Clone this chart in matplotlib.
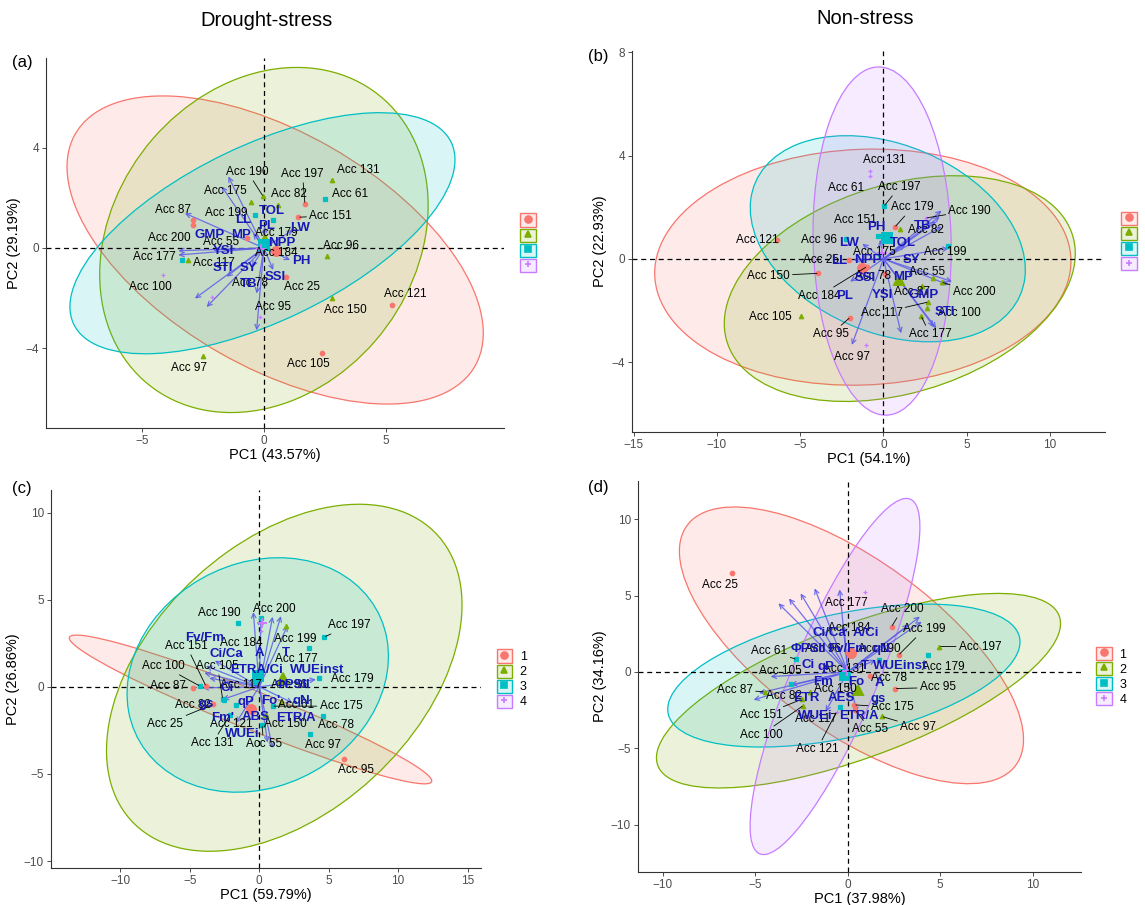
import numpy as np
import matplotlib.pyplot as plt
from matplotlib.patches import Ellipse, Patch
from matplotlib.lines import Line2D
from matplotlib.legend_handler import HandlerTuple
from matplotlib.colors import to_rgba

plt.rcParams['font.family'] = ['Liberation Sans', 'DejaVu Sans']

GRP_COL = {1: '#F8766D', 2: '#7CAE00', 3: '#00BFC4', 4: '#C77CFF'}
GRP_MK = {1: 'o', 2: '^', 3: 's', 4: '+'}

# ---------------- panel (a): drought-stress, yield indices ----------------
a_acc = [131, 61, 197, 82, 190, 175, 151, 87, 199, 200, 55, 179, 184, 96, 177, 117, 100, 78, 25, 95, 121, 150, 105, 97]
a_x = [2.81, 2.50, 1.68, 0.59, -0.03, -0.55, 1.41, -2.90, -0.37, -2.90, -0.71, 0.38, 0.20, 2.57, -3.35, -3.10, -4.13, -2.14, 0.90, -0.16, 5.23, 2.77, 2.40, -2.49]
a_y = [2.73, 1.95, 1.77, 1.70, 2.06, 1.83, 1.23, 1.12, 1.33, 0.91, 0.39, 1.10, 0.20, -0.32, -0.48, -0.48, -1.08, -1.95, -1.15, -2.76, -2.26, -1.98, -4.19, -4.32]
a_grp = [2, 3, 1, 2, 2, 2, 1, 1, 3, 1, 1, 3, 2, 2, 3, 2, 4, 4, 1, 4, 1, 2, 1, 2]
a_lx = [3.87, 3.52, 1.58, 1.04, -0.67, -1.57, 2.73, -3.72, -1.53, -3.89, -1.76, 0.49, 0.52, 3.16, -4.51, -2.05, -4.67, -0.57, 1.54, 0.38, 5.78, 3.32, 1.82, -3.06]
a_ly = [3.11, 2.17, 2.96, 2.17, 3.04, 2.26, 1.29, 1.53, 1.39, 0.41, 0.23, 0.59, -0.21, 0.09, -0.37, -0.59, -1.55, -1.39, -1.55, -2.36, -1.85, -2.46, -4.63, -4.81]
a_seg = [190, 197, 151]
a_var = ['TOL', 'LL', 'PL', 'LW', 'GMP', 'MP', 'NPP', 'YSI', 'PH', 'STI', 'SY', 'SSI', 'TB']
a_vx = [0.31, -0.85, 0.11, 1.48, -2.21, -0.92, 0.72, -1.67, 1.54, -1.67, -0.64, 0.45, -0.64]
a_vy = [1.46, 1.12, 0.86, 0.79, 0.52, 0.52, 0.19, -0.11, -0.51, -0.79, -0.79, -1.15, -1.45]
a_arx = [-1.46, -1.73, -3.24, -3.51, -3.51, -2.83, -2.35, -0.30, 1.20, 1.07, -1.53, -0.50, -0.30, 0.38, -0.44, -2.08, 0.04, 0.38]
a_ary = [2.86, 2.46, 1.39, -0.11, -0.28, -2.02, -2.36, -3.29, 0.72, -0.48, -1.15, -0.75, -1.82, -0.88, 0.59, -0.08, 0.86, 0.32]
a_ell_grp = [1, 2, 3]
a_ell_cx = [0.46, 0.00, -0.06]
a_ell_cy = [-0.08, 0.32, 0.59]
a_ell_sx = [8.53, 6.73, 7.89]
a_ell_sy = [6.16, 6.90, 4.82]
a_ell_rho = [-0.54, 0.20, 0.61]
a_cen_x = [0.49, 0.05, 0.02, -0.10]
a_cen_y = [-0.13, 0.30, 0.12, -0.05]

# ---------------- panel (b): non-stress, yield indices ----------------
b_acc = [131, 61, 197, 179, 190, 151, 82, 121, 96, 199, 175, 25, 150, 55, 78, 184, 200, 87, 117, 100, 105, 95, 177, 97]
b_x = [-0.78, -0.82, 0.02, 0.68, 2.54, -0.30, 0.99, -6.40, -2.28, 3.90, -0.20, -2.10, -3.91, 3.00, 0.10, -1.00, 3.50, 2.30, 2.69, 2.64, -4.97, -2.01, 2.26, -1.06]
b_y = [3.39, 3.19, 2.03, 1.23, 1.58, 0.90, 1.15, 0.75, 0.76, 0.50, 0.20, -0.05, -0.56, -0.75, -0.60, -0.30, -0.90, -1.05, -1.67, -1.91, -2.21, -2.27, -2.21, -3.33]
b_grp = [4, 4, 3, 1, 4, 3, 2, 1, 3, 3, 3, 1, 1, 2, 1, 1, 2, 2, 2, 2, 2, 1, 2, 4]
b_lx = [0.06, -2.26, 0.95, 1.75, 5.18, -1.69, 2.54, -7.55, -3.85, 3.70, -0.53, -3.74, -6.91, 2.64, -0.63, -3.85, 5.43, 1.70, -0.12, 4.55, -6.77, -3.15, 2.79, -1.90]
b_ly = [3.84, 2.74, 2.78, 2.00, 1.87, 1.51, 1.10, 0.74, 0.74, 0.28, 0.28, -0.04, -0.65, -0.52, -0.68, -1.43, -1.29, -1.30, -2.09, -2.11, -2.24, -2.91, -2.91, -3.79]
b_seg = [197, 179, 190, 150, 184, 200, 117, 95, 177]
b_var = ['PH', 'TB', 'LW', 'TOL', 'LL', 'NPP', 'SY', 'SSI', 'MP', 'PL', 'YSI', 'GMP', 'STI']
b_vx = [-0.42, 2.33, -2.05, 1.16, -2.68, -0.95, 1.69, -1.12, 1.16, -2.33, -0.06, 2.43, 3.70]
b_vy = [1.23, 1.28, 0.61, 0.61, -0.10, -0.06, -0.06, -0.75, -0.71, -1.43, -1.40, -1.40, -2.04]
b_arx = [3.49, 3.38, 3.17, 3.49, 3.91, 4.12, 3.91, 3.17, 3.02, 1.06, -1.90, -1.27, -1.80, -2.00, -0.21, 1.30]
b_ary = [1.87, 1.64, 1.45, 1.25, 0.41, -0.88, -1.01, -2.69, -2.62, -2.88, -3.33, 0.58, -0.04, -0.88, 0.74, 0.55]
b_ell_grp = [1, 2, 3, 4]
b_ell_cx = [-1.24, 0.98, 0.26, -0.08]
b_ell_cy = [-0.32, -1.15, 0.78, 0.69]
b_ell_sx = [12.5, 10.54, 8.26, 4.15]
b_ell_sy = [4.57, 4.37, 3.99, 6.74]
b_ell_rho = [0.05, 0.31, -0.30, -0.05]
b_cen_x = [-1.27, 0.95, 0.21, -0.10]
b_cen_y = [-0.36, -0.81, 0.80, 0.22]

# ---------------- panel (c): drought-stress, physiology ----------------
c_acc = [190, 200, 197, 151, 184, 199, 100, 105, 177, 87, 117, 96, 179, 82, 61, 175, 25, 121, 150, 78, 131, 55, 97, 95]
c_x = [-1.51, 0.12, 4.68, -3.84, 0.12, 3.60, -4.27, -2.64, 1.92, -4.80, -0.30, 1.50, 4.30, -2.52, 1.60, 0.96, -3.30, -1.68, 0.50, 4.56, -2.10, 0.20, 3.67, 6.12]
c_y = [3.68, 3.93, 2.85, 0.04, 3.20, 2.20, 0.04, -0.69, 3.49, -0.04, 0.30, 0.30, 0.50, -0.73, -0.90, -1.11, -1.00, -1.07, -1.60, -1.69, -1.60, -2.20, -2.68, -4.14]
c_grp = [3, 3, 3, 1, 4, 3, 3, 3, 2, 1, 3, 2, 3, 3, 2, 3, 1, 3, 2, 3, 3, 3, 3, 1]
c_lx = [-2.88, 1.08, 6.47, -5.23, -1.32, 2.59, -6.91, -3.00, 2.69, -6.59, -1.32, 2.16, 6.71, -4.80, 2.64, 5.88, -6.76, -2.04, 1.87, 5.56, -3.36, 0.31, 4.56, 6.95]
c_ly = [4.25, 4.48, 3.54, 2.34, 2.53, 2.72, 1.19, 1.19, 1.57, 0.04, 0.10, 0.10, 0.42, -1.02, -1.05, -1.11, -2.13, -2.13, -2.13, -2.20, -3.22, -3.26, -3.35, -4.79]
c_seg = [197, 151, 100, 105, 175, 25, 131, 55]
c_var = ['Fv/Fm', 'Ci/Ca', 'A', 'T', 'ETRA/Ci', 'WUEinst', 'Ci', 'ΦPSII', 'gs', 'qP', "Fo'", 'qN', "Fm'", 'ABS', 'ETR/A', 'WUEi']
c_vx = [-3.96, -2.40, 0.05, 1.92, -0.19, 4.20, -2.28, 2.40, -3.84, -0.96, 0.84, 3.00, -2.64, -0.24, 2.64, -1.20]
c_vy = [2.78, 1.86, 1.92, 1.95, 0.96, 0.96, -0.06, 0.10, -0.98, -0.88, -0.82, -0.82, -1.78, -1.74, -1.78, -2.68]
c_arx = [-0.43, 0.12, 0.96, 1.56, 2.04, -3.84, -3.96, -3.60, -4.08, 4.08, 0.96, 0.60, -2.64, 2.40, -1.68, -3.20]
c_ary = [4.29, 3.90, 4.02, 4.06, 3.52, 1.19, 0.80, 0.50, -0.06, 0.42, -3.51, -3.20, -0.73, -0.92, -2.07, 1.50]
c_ell_grp = [1, 2, 3]
c_ell_cx = [-0.63, 1.80, -0.11]
c_ell_cy = [-1.30, 0.52, 0.68]
c_ell_sx = [13.05, 12.8, 9.41]
c_ell_sy = [4.27, 9.96, 6.73]
c_ell_rho = [-0.96, 0.42, 0.16]
c_cen_x = [-0.60, 1.73, -0.12, 0.20]
c_cen_y = [-1.26, 0.52, 0.61, 3.68]

# ---------------- panel (d): non-stress, physiology ----------------
d_acc = [25, 177, 200, 184, 199, 197, 61, 179, 96, 190, 105, 131, 78, 95, 87, 82, 150, 175, 151, 117, 97, 55, 100, 121]
d_x = [-6.23, 0.94, 2.37, 0.17, 2.75, 4.95, -2.79, 4.34, -1.50, 1.70, -3.08, -0.30, 1.20, 2.56, -4.50, -2.03, 0.55, 0.36, -2.50, -0.40, 1.85, 0.40, -2.40, -0.60]
d_y = [6.45, 5.25, 2.96, 1.33, 1.11, 1.66, 0.83, 1.11, 0.30, 0.78, -0.78, -0.20, -0.30, -1.09, -1.30, -1.29, -1.18, -2.16, -1.80, -2.31, -2.92, -2.50, -2.20, -2.60]
d_grp = [1, 4, 1, 1, 1, 2, 3, 3, 4, 3, 3, 3, 1, 1, 2, 2, 2, 1, 2, 3, 2, 1, 2, 4]
d_lx = [-6.90, -0.06, 2.94, 0.08, 4.15, 7.15, -4.23, 5.14, -1.36, 1.70, -3.65, -0.17, 2.24, 4.86, -6.10, -3.46, -0.65, 2.41, -4.67, -1.74, 3.80, 1.22, -4.67, -1.64]
d_ly = [5.69, 4.49, 4.12, 2.85, 2.81, 1.66, 1.37, 0.35, 1.50, 1.50, 0.09, 0.20, -0.41, -1.02, -1.18, -1.55, -1.11, -2.31, -2.85, -3.07, -3.62, -3.75, -4.12, -5.03]
d_seg = [200, 199, 197, 61, 95, 87, 175, 151, 97, 55, 100, 121]
d_var = ['Ci/Ca', 'A/Ci', 'ΦPSII', 'Fv/Fm', 'qN', 'Ci', 'qP', 'T', 'WUEinst', 'Fm', 'Fo', 'A', 'ETR', 'AES', 'gs', 'WUEi', 'ETR/A']
d_vx = [-1.01, 0.98, -2.12, -0.02, 1.80, -2.12, -1.17, 0.94, 2.85, -1.36, 0.46, 1.74, -2.22, -0.36, 1.66, -1.74, 0.59]
d_vy = [2.57, 2.57, 1.50, 1.50, 1.50, 0.46, 0.35, 0.41, 0.41, -0.63, -0.63, -0.70, -1.72, -1.72, -1.76, -2.88, -2.88]
d_arx = [-3.75, -3.18, -2.55, -1.79, -0.44, 3.90, 4.00, 3.30, -4.17, -4.80, -5.09, -3.08, 1.51, -0.20, -1.20, 0.50]
d_ary = [4.49, 4.81, 5.14, 5.47, 5.40, 3.62, 3.29, 3.10, -0.31, -1.39, -1.83, -0.85, 0.78, 3.00, -2.60, -2.70]
d_ell_grp = [1, 2, 3, 4]
d_ell_cx = [0.20, 0.58, -0.21, -0.69]
d_ell_cy = [1.74, -1.23, -0.24, -0.30]
d_ell_sx = [9.30, 10.92, 9.52, 4.59]
d_ell_sy = [9.06, 6.37, 4.68, 11.66]
d_ell_rho = [-0.68, 0.69, 0.47, 0.84]
d_cen_x = [0.17, 0.55, -0.17, -0.05]
d_cen_y = [1.26, -1.18, -0.20, 0.05]


def add_ellipse(ax, cx, cy, sx, sy, rho, col):
    cov = np.array([[sx * sx, rho * sx * sy], [rho * sx * sy, sy * sy]])
    vals, vecs = np.linalg.eigh(cov)
    ang = np.degrees(np.arctan2(vecs[1, 1], vecs[0, 1]))
    e = Ellipse((cx, cy), 2 * np.sqrt(vals[1]), 2 * np.sqrt(vals[0]), angle=ang,
                facecolor=to_rgba(col, 0.15), edgecolor=col, lw=0.9, zorder=1)
    ax.add_patch(e)


def draw_panel(ax, acc, x, y, grp, lx, ly, seg, var, vx, vy, arx, ary,
               egrp, ecx, ecy, esx, esy, erho, cenx, ceny,
               xlim, ylim, xticks, yticks, xlab, ylab, leg_labels):
    for g, cx, cy, sx, sy, r in zip(egrp, ecx, ecy, esx, esy, erho):
        add_ellipse(ax, cx, cy, sx, sy, r, GRP_COL[g])

    ax.axhline(0, color='black', ls=(0, (4, 3)), lw=0.9, zorder=2)
    ax.axvline(0, color='black', ls=(0, (4, 3)), lw=0.9, zorder=2)

    # variable arrows
    for tx, ty in zip(arx, ary):
        ax.annotate('', xy=(tx, ty), xytext=(0, 0),
                    arrowprops=dict(arrowstyle='->', color='#5C5CE8', lw=0.9,
                                    shrinkA=0, shrinkB=0, mutation_scale=8, alpha=0.85),
                    zorder=3)

    # individuals
    for xi, yi, g in zip(x, y, grp):
        ax.plot(xi, yi, marker=GRP_MK[g], color=GRP_COL[g], ls='',
                markersize=3.2, mew=0.9, zorder=4)
    for k, (cx, cy) in enumerate(zip(cenx, ceny)):
        g = k + 1
        ax.plot(cx, cy, marker=GRP_MK[g], color=GRP_COL[g], ls='',
                markersize=6.5, mew=1.4, zorder=4)

    for n, xi, yi, tx, ty in zip(acc, x, y, lx, ly):
        if n in seg:
            ax.annotate(f'Acc {n}', xy=(xi, yi), xytext=(tx, ty), fontsize=8.5,
                        ha='center', va='center', color='black', zorder=5,
                        arrowprops=dict(arrowstyle='-', color='black', lw=0.6,
                                        shrinkA=0, shrinkB=1))
        else:
            ax.text(tx, ty, f'Acc {n}', fontsize=8.5, ha='center', va='center',
                    color='black', zorder=5)

    for name, tx, ty in zip(var, vx, vy):
        ax.text(tx, ty, name, fontsize=9.5, fontweight='bold', color='#1818B8',
                ha='center', va='center', zorder=6)

    ax.set_xlim(xlim)
    ax.set_ylim(ylim)
    ax.set_xticks(xticks)
    ax.set_yticks(yticks)
    ax.set_xlabel(xlab, fontsize=10.5, labelpad=1)
    ax.set_ylabel(ylab, fontsize=10.5, labelpad=3)
    for s in ['top', 'right']:
        ax.spines[s].set_visible(False)
    for s in ['left', 'bottom']:
        ax.spines[s].set_linewidth(0.8)
        ax.spines[s].set_color('#333333')
    ax.tick_params(labelsize=8.5, colors='#4D4D4D', length=3, width=0.7, pad=2)

    handles = []
    for g in [1, 2, 3, 4]:
        c = GRP_COL[g]
        handles.append((Patch(facecolor=to_rgba(c, 0.15), edgecolor=c, lw=1.0),
                        Line2D([], [], marker=GRP_MK[g], color=c, ls='', markersize=5, mew=1.2)))
    ax.legend(handles, leg_labels, handler_map={tuple: HandlerTuple(ndivide=1)},
              loc='center left', bbox_to_anchor=(1.035, 0.5), frameon=False,
              fontsize=9, handlelength=1.25, handleheight=1.25, labelspacing=0.1,
              handletextpad=0.6, borderaxespad=0, borderpad=0)


def main():
    fig = plt.figure(figsize=(11.45, 9.05), dpi=100)
    ax_a = fig.add_axes([0.0402, 0.527, 0.400, 0.409])
    ax_b = fig.add_axes([0.552, 0.5227, 0.413, 0.421])
    ax_c = fig.add_axes([0.0445, 0.0409, 0.376, 0.4177])
    ax_d = fig.add_axes([0.557, 0.0365, 0.387, 0.432])

    draw_panel(ax_a, a_acc, a_x, a_y, a_grp, a_lx, a_ly, a_seg, a_var, a_vx, a_vy, a_arx, a_ary,
               a_ell_grp, a_ell_cx, a_ell_cy, a_ell_sx, a_ell_sy, a_ell_rho, a_cen_x, a_cen_y,
               (-8.93, 9.84), (-7.2, 7.6), [-5, 0, 5], [-4, 0, 4],
               'PC1 (43.57%)', 'PC2 (29.19%)', ['', '', '', ''])
    draw_panel(ax_b, b_acc, b_x, b_y, b_grp, b_lx, b_ly, b_seg, b_var, b_vx, b_vy, b_arx, b_ary,
               b_ell_grp, b_ell_cx, b_ell_cy, b_ell_sx, b_ell_sy, b_ell_rho, b_cen_x, b_cen_y,
               (-15.1, 13.3), (-6.7, 8.05), [-15, -10, -5, 0, 5, 10], [-4, 0, 4, 8],
               'PC1 (54.1%)', 'PC2 (22.93%)', ['', '', '', ''])
    draw_panel(ax_c, c_acc, c_x, c_y, c_grp, c_lx, c_ly, c_seg, c_var, c_vx, c_vy, c_arx, c_ary,
               c_ell_grp, c_ell_cx, c_ell_cy, c_ell_sx, c_ell_sy, c_ell_rho, c_cen_x, c_cen_y,
               (-15.0, 16.0), (-10.4, 11.3), [-10, -5, 0, 5, 10, 15], [-10, -5, 0, 5, 10],
               'PC1 (59.79%)', 'PC2 (26.86%)', ['1', '2', '3', '4'])
    draw_panel(ax_d, d_acc, d_x, d_y, d_grp, d_lx, d_ly, d_seg, d_var, d_vx, d_vy, d_arx, d_ary,
               d_ell_grp, d_ell_cx, d_ell_cy, d_ell_sx, d_ell_sy, d_ell_rho, d_cen_x, d_cen_y,
               (-11.35, 12.6), (-13.1, 12.5), [-10, -5, 0, 5, 10], [-10, -5, 0, 5, 10],
               'PC1 (37.98%)', 'PC2 (34.16%)', ['1', '2', '3', '4'])

    fig.text(267 / 1145, 1 - 20 / 905, 'Drought-stress', fontsize=14.5, ha='center', va='center')
    fig.text(865 / 1145, 1 - 18 / 905, 'Non-stress', fontsize=14.5, ha='center', va='center')
    fig.text(22 / 1145, 1 - 63 / 905, '(a)', fontsize=12, ha='center', va='center')
    fig.text(598 / 1145, 1 - 56 / 905, '(b)', fontsize=12, ha='center', va='center')
    fig.text(22 / 1145, 1 - 488 / 905, '(c)', fontsize=12, ha='center', va='center')
    fig.text(598 / 1145, 1 - 487 / 905, '(d)', fontsize=12, ha='center', va='center')

    fig.savefig('out.png', dpi=100)


if __name__ == "__main__":
    main()
